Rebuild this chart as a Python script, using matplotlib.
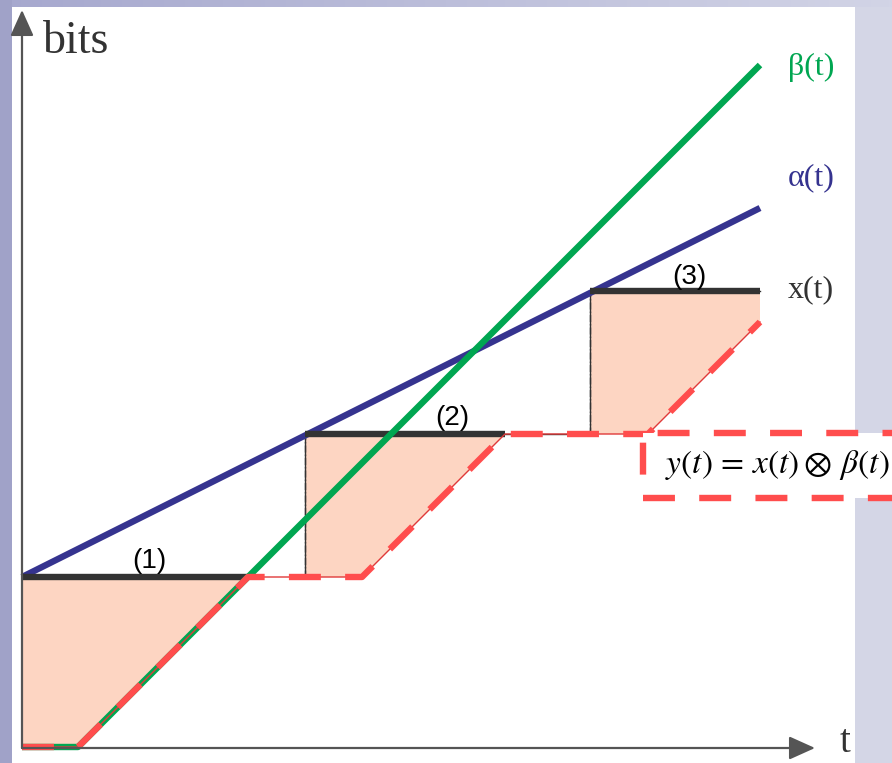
import numpy as np
import matplotlib.pyplot as plt
from matplotlib.patches import Rectangle

plt.rcParams['mathtext.fontset'] = 'stix'

# arrival curve / service curve / flow, in arbitrary units
t_jump = [0.0, 28.3, 56.8]          # instants where x(t) jumps
x_level = [17.0, 31.3, 45.6]        # x(t) after each jump
t_end = 73.8
x_bold_end = [22.6, 48.3, 73.8]     # where y(t) catches up with each step

alpha_t = [0.0, 73.8]
alpha_v = [17.0, 53.9]

beta_t = [0.0, 5.6, 73.8]
beta_v = [0.0, 0.0, 68.2]

y_t = [0.0, 5.6, 22.6, 34.0, 48.3, 62.6, 73.8]
y_v = [0.0, 0.0, 17.0, 17.0, 31.3, 31.3, 42.5]

step_names = ['(1)', '(2)', '(3)']

GREEN = '#00a651'
NAVY = '#35338f'
DARK = '#333333'
RED = '#ff4d4d'
PINK = '#fdd5c2'
LW = 4.6

fig = plt.figure(figsize=(8.92, 7.63), dpi=100, facecolor='#d4d6e6')

# slide-like backdrop
bg = fig.add_axes([0, 0, 1, 1])
bg.set_xlim(0, 892)
bg.set_ylim(763, 0)
bg.axis('off')
grad = np.linspace(0, 1, 256)[None, :]
top_cmap = plt.matplotlib.colors.LinearSegmentedColormap.from_list('top', ['#a6a8ce', '#d2d4e6'])
bg.imshow(grad, cmap=top_cmap, extent=(0, 892, 7, 0), aspect='auto')
bg.add_patch(Rectangle((12, 7), 843, 760, fc='white', ec='none'))
bg.add_patch(Rectangle((0, 0), 12, 763, fc='#a0a2c8', ec='none'))

ax = fig.add_axes([0, 0, 1, 1])
ax.set_facecolor('none')
ax.set_xlim(-2.2, 87.0)
ax.set_ylim(-1.6, 74.7)
ax.axis('off')

# staircase x(t)
xs_t = np.append(np.repeat(t_jump, 2)[1:], t_end)
xs_v = np.repeat(x_level, 2)

# backlog area between x(t) and y(t)
poly_t = np.concatenate([xs_t, y_t[::-1]])
poly_v = np.concatenate([xs_v, y_v[::-1]])
ax.fill(poly_t, poly_v, color=PINK, lw=0, zorder=1)

# jumps of x(t)
ax.vlines(t_jump[1:], x_level[:-1], x_level[1:], colors='#444444', lw=1.0,
          linestyles=(0, (5, 1.5, 1, 1.5)), zorder=2)
ax.plot(xs_t[1:], xs_v[1:], color=DARK, lw=1.0, zorder=2)

ax.plot(alpha_t, alpha_v, color=NAVY, lw=LW, solid_capstyle='butt', zorder=3)
ax.hlines(x_level, t_jump, x_bold_end, colors=DARK, lw=LW, zorder=3)
ax.plot(beta_t, beta_v, color=GREEN, lw=LW, solid_capstyle='butt', zorder=4)

ax.plot(y_t, y_v, color='#e03a3a', lw=1.0, zorder=5)
ax.plot(y_t, y_v, color=RED, lw=LW, linestyle=(0, (5.0, 3.8)),
        solid_capstyle='butt', zorder=6)

# axes with arrows
arrow = dict(arrowstyle='-|>,head_length=0.8,head_width=0.36', mutation_scale=20,
             color='#555555', lw=1.6, shrinkA=0, shrinkB=0)
ax.annotate('', xy=(0, 73.7), xytext=(0, -0.1), arrowprops=arrow, zorder=7)
ax.annotate('', xy=(79.3, -0.1), xytext=(0, -0.1), arrowprops=arrow, zorder=7)

serif = ['Liberation Serif', 'DejaVu Serif']
ax.text(2.1, 69.4, 'bits', fontsize=33, family=serif, color=DARK, va='baseline')
ax.text(82.3, -1.4, 't', fontsize=28, family=serif, color=DARK, va='bottom', ha='center')

ax.text(78.9, 68.0, 'β(t)', fontsize=23, family=serif, color=GREEN, ha='center', va='center')
ax.text(78.9, 56.9, 'α(t)', fontsize=23, family=serif, color=NAVY, ha='center', va='center')
ax.text(78.9, 45.7, 'x(t)', fontsize=23, family=serif, color=DARK, ha='center', va='center')

for name, (tx, ty) in zip(step_names, [(12.7, 18.6), (43.0, 32.9), (66.7, 47.0)]):
    ax.text(tx, ty, name, fontsize=20, family=['Liberation Sans', 'DejaVu Sans'],
            color='black', ha='center', va='center', zorder=8)

# formula box
ax.add_patch(Rectangle((62.1, 24.9), 30.0, 6.5, fc='white', ec=RED, lw=LW,
                       linestyle=(0, (5.0, 3.8)), clip_on=False, zorder=6))
ax.text(75.5, 28.2, r'$y(t)\,=\,x(t)\otimes\,\beta(t)$', fontsize=24,
        color='black', ha='center', va='center', zorder=9)

fig.savefig('out.png', dpi=100, facecolor=fig.get_facecolor())
